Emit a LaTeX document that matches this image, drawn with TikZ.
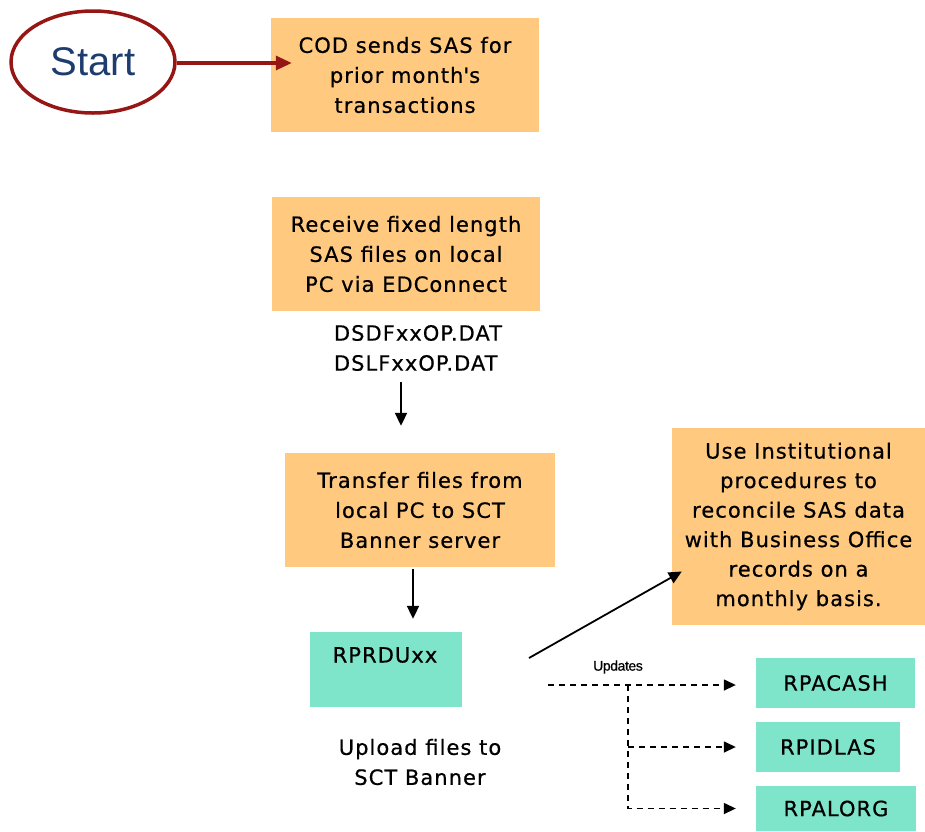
\documentclass[tikz,border=0pt]{standalone}
\usepackage{fontspec}
\setmainfont[LetterSpace=5,FakeBold=0.6]{DejaVu Sans}
\newfontfamily\startfont{Liberation Sans}
\newfontfamily\smallfont[LetterSpace=-3,FakeBold=0.6]{Liberation Sans}
\usetikzlibrary{arrows.meta,calc,shapes.geometric}
\definecolor{boxorange}{RGB}{255,201,128}
\definecolor{boxteal}{RGB}{126,228,202}
\definecolor{startred}{RGB}{150,22,22}
\definecolor{startblue}{RGB}{30,60,110}
\tikzset{
  obox/.style={fill=boxorange, draw=none, inner sep=0pt, align=center,
    font=\fontsize{21}{30}\selectfont},
  tbox/.style={fill=boxteal, draw=none, inner sep=0pt, align=center,
    font=\fontsize{21}{30}\selectfont},
  plain/.style={inner sep=0pt, align=center, font=\fontsize{21}{30}\selectfont},
  arr/.style={draw=black, line width=2pt, -{Triangle[length=13pt,width=12pt]}},
  dsh/.style={draw=black, line width=1.5pt, dash pattern=on 6pt off 5pt},
  dsharr/.style={dsh, -{Triangle[length=12pt,width=11pt]}},
  redarr/.style={draw=startred, line width=3.2pt, -{Triangle[length=16pt,width=14pt]}}
}
\begin{document}
\begin{tikzpicture}[x=1pt,y=-1pt]
\useasboundingbox (0,0) rectangle (925,831);
% start
\node[ellipse, draw=startred, line width=3.5pt, minimum width=164pt, minimum height=102pt,
      inner sep=0pt, text=startblue, font=\startfont\fontsize{40}{40}\selectfont] (start) at (93,62) {Start};
% boxes
\node[obox, minimum width=268pt, minimum height=114pt] (box1) at (405,75)
  {COD sends SAS for\\prior month\textquotesingle s\\transactions};
\node[obox, minimum width=268pt, minimum height=114pt] (box2) at (406,254)
  {Receive fixed length\\SAS files on local\\PC via EDConnect};
\node[plain, align=left] (files) at (418,348) {DSDFxxOP.DAT\\DSLFxxOP.DAT};
\node[obox, minimum width=270pt, minimum height=114pt] (box3) at (420,510)
  {Transfer files from\\local PC to SCT\\Banner server};
\node[tbox, minimum width=152pt, minimum height=75pt] (rprd) at (386,669.5) {};
\node[plain] (rprdtxt) at (385,655) {RPRDUxx};
\node[plain] (upload) at (420,762) {Upload files to\\SCT Banner};
\node[obox, minimum width=253pt, minimum height=197pt, font=\fontsize{21}{29.5}\selectfont] (box4) at (798.5,526.5)
  {Use Institutional\\procedures to\\reconcile SAS data\\with Business Office\\records on a\\monthly basis.};
\node[inner sep=0pt, font=\smallfont\fontsize{14}{14}\selectfont] (updates) at (618,667) {Updates};
\node[tbox, minimum width=159pt, minimum height=50pt] (rpacash) at (835.5,683) {RPACASH};
\node[tbox, minimum width=144pt, minimum height=50pt] (rpidlas) at (828,747) {RPIDLAS};
\node[tbox, minimum width=160pt, minimum height=45pt] (rpalorg) at (836,808.5) {RPALORG};
% connectors
\draw[redarr, shorten >=-21pt] (start.east |- 0,63) -- (box1.west |- 0,63);
\coordinate (a1s) at (401,382);
\draw[arr, shorten >=27pt] (a1s) -- (a1s |- box3.north);
\coordinate (a2s) at (413,569);
\draw[arr, shorten >=13pt] (a2s) -- (a2s |- rprd.north);
\coordinate (d0) at (529,658);
\draw[arr, line width=1.8pt] (d0) -- ($(box4.west)+(10,45)$);
\coordinate (u0) at (548,685);
\coordinate (ub) at (628,685);
\draw[dsharr, shorten >=20pt] (u0) -- (u0 -| rpacash.west);
\draw[dsharr, shorten >=20pt] (ub) |- (rpalorg.west);
\draw[dsharr, shorten >=20pt] (ub |- rpidlas.west) -- (rpidlas.west);
\end{tikzpicture}
\end{document}
